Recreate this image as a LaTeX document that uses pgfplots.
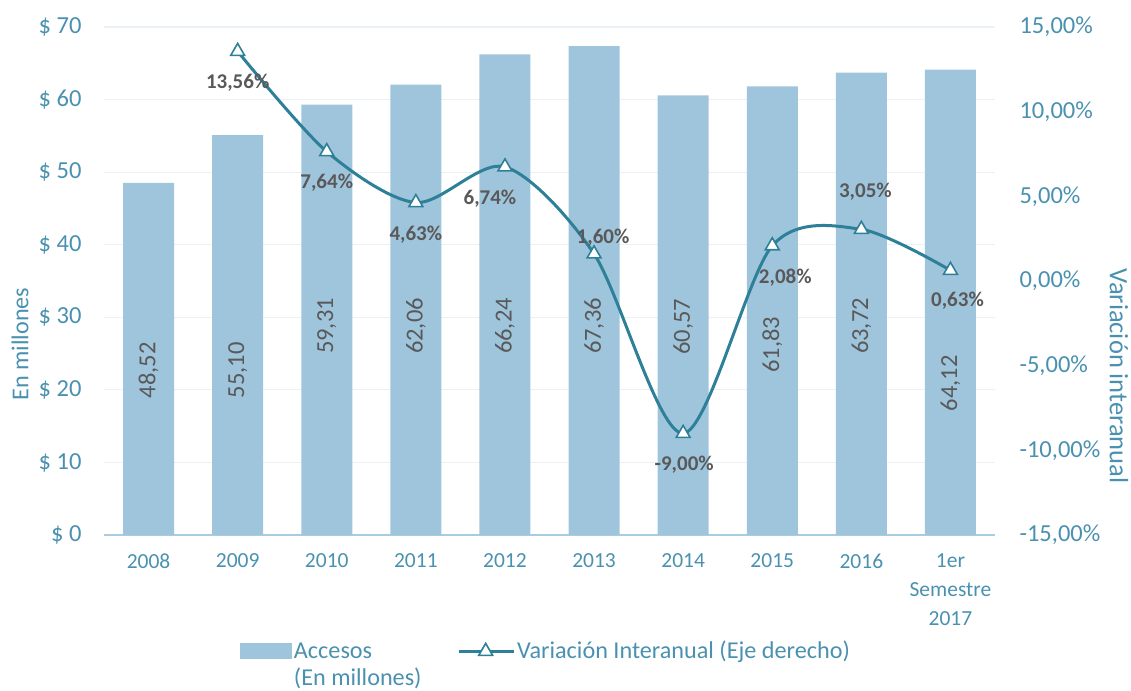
\documentclass[border=0pt]{standalone}
\usepackage{pgfplots}
\pgfplotsset{compat=1.18}
\usepackage{fontspec}
\setmainfont{Carlito}
\definecolor{barc}{RGB}{159,197,221}
\definecolor{linec}{RGB}{46,128,153}
\definecolor{tickc}{RGB}{74,145,176}
\definecolor{gridc}{RGB}{234,241,247}
\definecolor{axc}{RGB}{170,204,224}
\definecolor{lblc}{RGB}{89,89,89}
\pgfplotsset{
  lineleg/.style={legend image code/.code={\draw[##1, mark repeat=2, mark phase=2] plot coordinates {(0pt,7.5pt) (27pt,7.5pt) (55pt,7.5pt)};}},
  barleg/.style={legend image code/.code={\fill[barc] (0pt,-0.5pt) rectangle (52pt,15.5pt);}}
}
\pgfplotstableread{
x acc lpos lab
0 48.52 22.7 48,52
1 55.10 22.7 55,10
2 59.31 28.8 59,31
3 62.06 28.8 62,06
4 66.24 28.8 66,24
5 67.36 28.8 67,36
6 60.57 28.7 60,57
7 61.83 26.2 61,83
8 63.72 28.8 63,72
9 64.12 20.9 64,12
}\accdata
\begin{document}
\begin{tikzpicture}[x=1pt,y=1pt]
\useasboundingbox (0,0) rectangle (1131,690);
\begin{axis}[
 at={(104pt,155pt)}, anchor=south west,
 scale only axis, width=891pt, height=508pt,
 xmin=-0.5, xmax=9.5, ymin=0, ymax=70,
 xtick={0,...,9},
 xticklabels={2008,2009,2010,2011,2012,2013,2014,2015,2016,{1er\\Semestre\\2017}},
 ytick={0,10,...,70},
 yticklabels={\$ 0,\$ 10,\$ 20,\$ 30,\$ 40,\$ 50,\$ 60,\$ 70},
 axis x line*=bottom, axis y line*=left,
 y axis line style={draw=none},
 x axis line style={axc, line width=1.5pt},
 major tick length=0pt,
 ymajorgrids, grid style={gridc, line width=1.2pt},
 yticklabel style={font=\fontsize{24.5}{29}\selectfont, text=tickc, xshift=-19pt},
 xticklabel style={font=\fontsize{21.5}{29}\selectfont, text=tickc, align=center, yshift=-15pt},
 legend cell align=left,
 legend style={at={(0.1526,-0.205)}, anchor=north west, draw=none, fill=none,
   inner sep=0pt, outer sep=0pt,
   legend columns=2, font=\fontsize{24.2}{30}\selectfont, text=tickc,
   /tikz/every odd column/.append style={column sep=0pt},
   /tikz/every even column/.append style={column sep=83pt},
   cells={anchor=base west, inner xsep=3pt}},
 clip=false,
]
\addplot[ybar, bar width=51pt, fill=barc, draw=none, barleg]
  table[x=x, y=acc] {\accdata};
\addlegendentry{\rlap{\raisebox{-27pt}[0pt][0pt]{(En millones)}}Accesos}
\addlegendimage{linec, line width=3pt, mark=triangle*, mark size=8pt,
  mark options={fill=white, draw=linec, line width=1.6pt}, lineleg}
\addlegendentry{Variación Interanual (Eje derecho)}
\addplot[draw=none, mark=none, nodes near coords, point meta=explicit symbolic,
  every node near coord/.append style={rotate=90, anchor=center, text=lblc,
  font=\fontsize{24.5}{28}\selectfont}, forget plot]
  table[x=x, y=lpos, meta=lab] {\accdata};
\end{axis}
\begin{axis}[
 at={(104pt,155pt)}, anchor=south west,
 scale only axis, width=891pt, height=508pt,
 xmin=-0.5, xmax=9.5, ymin=-15, ymax=15,
 axis x line=none, axis y line*=right,
 y axis line style={draw=none},
 major tick length=0pt,
 ytick={-15,-10,...,15},
 yticklabels={-15{,}00\%,-10{,}00\%,-5{,}00\%,0{,}00\%,5{,}00\%,10{,}00\%,15{,}00\%},
 yticklabel style={font=\fontsize{24.5}{29}\selectfont, text=tickc, xshift=21pt},
 clip=false,
]
\addplot[linec, line width=3pt, smooth, mark=triangle*, mark size=8pt,
  mark options={fill=white, draw=linec, line width=1.6pt}]
  coordinates {(1,13.56) (2,7.64) (3,4.63) (4,6.74) (5,1.60) (6,-9.00) (7,2.08) (8,3.05) (9,0.63)};
\begin{scope}[every node/.style={font=\bfseries\fontsize{21}{25}\selectfont, text=lblc}]
\node[xshift=0pt, yshift=-31.6pt] at (axis cs:1,13.56) {13,56\%};
\node[xshift=0pt, yshift=-31.3pt] at (axis cs:2,7.64) {7,64\%};
\node[xshift=0pt, yshift=-32.4pt] at (axis cs:3,4.63) {4,63\%};
\node[xshift=-15pt, yshift=-32pt] at (axis cs:4,6.74) {6,74\%};
\node[xshift=9pt, yshift=16pt] at (axis cs:5,1.60) {1,60\%};
\node[xshift=1pt, yshift=-31.6pt] at (axis cs:6,-9.00) {-9,00\%};
\node[xshift=13pt, yshift=-32.3pt] at (axis cs:7,2.08) {2,08\%};
\node[xshift=4pt, yshift=37.3pt] at (axis cs:8,3.05) {3,05\%};
\node[xshift=7pt, yshift=-30.7pt] at (axis cs:9,0.63) {0,63\%};
\end{scope}
\end{axis}
\node[rotate=90, text=tickc, font=\fontsize{24.2}{29}\selectfont] at (20,346) {En millones};
\node[rotate=-90, text=tickc, font=\fontsize{26.5}{29}\selectfont] at (1119,314) {Variación interanual};
\end{tikzpicture}
\end{document}
